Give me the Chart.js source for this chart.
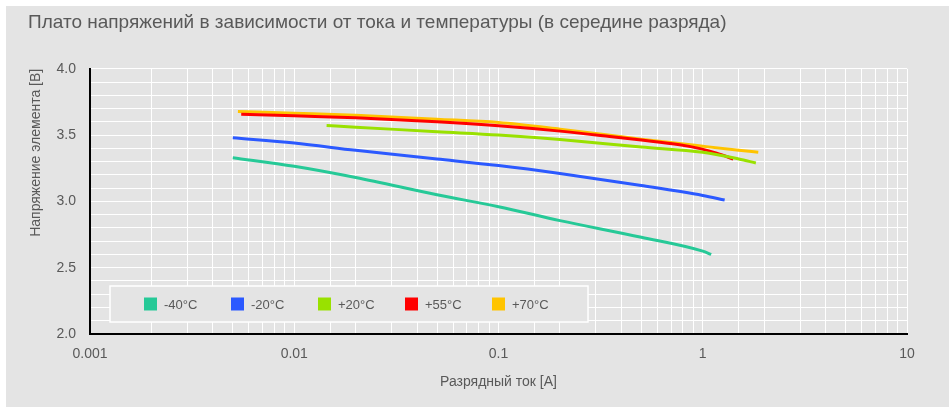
<!DOCTYPE html>
<html>
<head>
<meta charset="UTF-8">
<title>Плато напряжений</title>
<script src="https://cdn.jsdelivr.net/npm/chart.js"></script>
<style>
    body { margin: 0; background: #ffffff; }
    #box {
        position: absolute;
        left: 6px; top: 6px;
        width: 943px; height: 401px;
        background: #e4e4e4;
    }
</style>
</head>
<body>
<div id="box"><canvas id="chart" width="943" height="401"></canvas></div>
<script>
    // данные: ток [A] -> напряжение [В]
    const labels = ["-40°C", "-20°C", "+20°C", "+55°C", "+70°C"];
    const colors = ["#26c997", "#2b59ff", "#99e100", "#ff0000", "#ffc400"];

    const iM40 = [0.005, 0.01, 0.02, 0.05, 0.1, 0.2, 0.5, 1.0, 1.1];
    const vM40 = [3.33, 3.265, 3.18, 3.05, 2.96, 2.855, 2.73, 2.625, 2.60];

    const iM20 = [0.005, 0.01, 0.02, 0.05, 0.1, 0.2, 0.5, 1.0, 1.28];
    const vM20 = [3.48, 3.44, 3.385, 3.32, 3.27, 3.21, 3.12, 3.045, 3.01];

    const iP20 = [0.0144, 0.02, 0.05, 0.1, 0.2, 0.5, 1.0, 1.5, 1.82];
    const vP20 = [3.572, 3.56, 3.525, 3.50, 3.466, 3.41, 3.37, 3.32, 3.29];

    const iP55 = [0.0055, 0.01, 0.02, 0.05, 0.1, 0.2, 0.35, 0.5, 0.77, 0.97, 1.17, 1.41];
    const vP55 = [3.658, 3.645, 3.63, 3.60, 3.57, 3.53, 3.49, 3.463, 3.427, 3.398, 3.364, 3.32];

    const iP70 = [0.0053, 0.01, 0.02, 0.05, 0.1, 0.2, 0.5, 1.0, 1.5, 1.87];
    const vP70 = [3.678, 3.665, 3.65, 3.62, 3.595, 3.545, 3.469, 3.416, 3.386, 3.371];

    const currents = [iM40, iM20, iP20, iP55, iP70];
    const volts = [vM40, vM20, vP20, vP55, vP70];

    const textColor = "#595959";
    const fontName = "'Liberation Sans', sans-serif";

    const datasets = labels.map((lab, k) => ({
        label: lab,
        data: currents[k].map((c, j) => ({x: c, y: volts[k][j]})),
        borderColor: colors[k],
        backgroundColor: colors[k],
        borderWidth: 3,
        pointRadius: 0,
        fill: false,
        cubicInterpolationMode: "monotone"
    }));

    // легенда внутри области графика, как в оригинале
    const innerLegend = {
        id: "innerLegend",
        afterDatasetsDraw(chart) {
            const ctx = chart.ctx;
            const area = chart.chartArea;
            const left = area.left + 20, top = area.bottom - 48;
            const w = 478, h = 36;
            ctx.save();
            ctx.fillStyle = "#e4e4e4";
            ctx.fillRect(left, top, w, h);
            ctx.strokeStyle = "#ffffff";
            ctx.lineWidth = 1.5;
            ctx.strokeRect(left, top, w, h);
            ctx.font = "13px " + fontName;
            ctx.textBaseline = "middle";
            chart.data.datasets.forEach((ds, k) => {
                const x = left + 34 + k * 87;
                const cy = top + h / 2;
                ctx.fillStyle = ds.borderColor;
                ctx.fillRect(x, cy - 6.5, 13, 13);
                ctx.fillStyle = textColor;
                ctx.fillText(ds.label, x + 20, cy + 1);
            });
            ctx.restore();
        }
    };

    new Chart(document.getElementById("chart"), {
        type: "line",
        data: {datasets: datasets},
        plugins: [innerLegend],
        options: {
            responsive: false,
            animation: false,
            layout: {padding: {left: 22, right: 42, top: 0, bottom: 0}},
            plugins: {
                legend: {display: false},
                tooltip: {enabled: false},
                title: {
                    display: true,
                    text: "Плато напряжений в зависимости от тока и температуры (в середине разряда)",
                    align: "start",
                    color: textColor,
                    font: {family: fontName, size: 19, weight: "normal"},
                    padding: {top: 5, bottom: 35}
                }
            },
            scales: {
                x: {
                    type: "logarithmic",
                    min: 0.001,
                    max: 10,
                    afterFit: s => { s.height = 73; },
                    grid: {color: "#ffffff", lineWidth: 1, drawTicks: false},
                    border: {color: "#000000", width: 2},
                    ticks: {
                        autoSkip: false,
                        maxRotation: 0,
                        padding: 12,
                        color: textColor,
                        font: {family: fontName, size: 14},
                        callback: function (v) {
                            const e = Math.log10(v);
                            if (Math.abs(e - Math.round(e)) > 1e-6) return "";
                            return String(Number(v.toPrecision(1)));
                        }
                    },
                    title: {
                        display: true,
                        text: "Разрядный ток [A]",
                        color: textColor,
                        font: {family: fontName, size: 14},
                        padding: {top: 0, bottom: 16}
                    }
                },
                y: {
                    min: 2.0,
                    max: 4.0,
                    afterFit: s => { s.width = 62; },
                    grid: {color: "#ffffff", lineWidth: 1, drawTicks: false},
                    border: {color: "#000000", width: 2},
                    ticks: {
                        stepSize: 0.1,
                        autoSkip: false,
                        maxTicksLimit: 30,
                        padding: 14,
                        color: textColor,
                        font: {family: fontName, size: 14},
                        callback: function (v) {
                            const r = Math.round(v * 10);
                            return r % 5 === 0 ? (r / 10).toFixed(1) : "";
                        }
                    },
                    title: {
                        display: true,
                        text: "Напряжение элемента [В]",
                        align: "end",
                        color: textColor,
                        font: {family: fontName, size: 14},
                        padding: {top: 0, bottom: 0}
                    }
                }
            }
        }
    });
</script>
</body>
</html>
